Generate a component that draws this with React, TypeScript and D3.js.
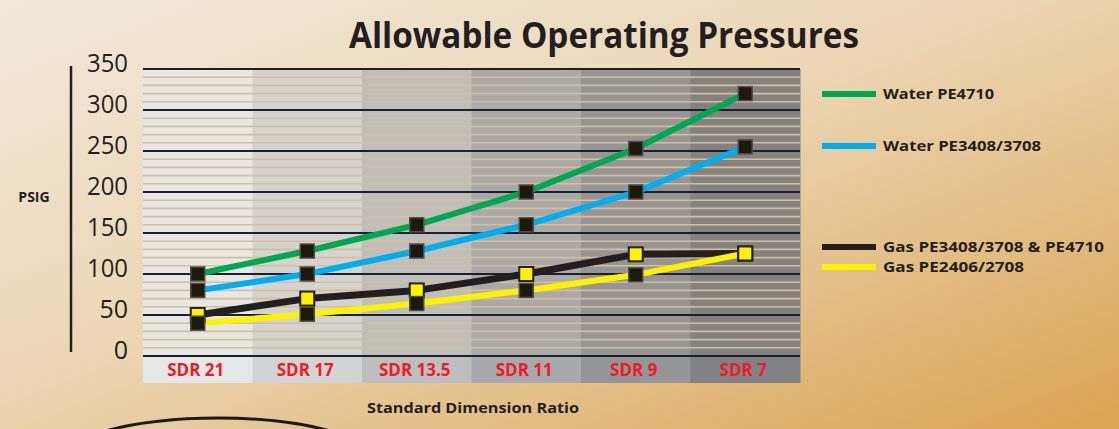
import React from "react";
import * as d3 from "d3";

const categories = ["SDR 21", "SDR 17", "SDR 13.5", "SDR 11", "SDR 9", "SDR 7"];
const bandColors = ["#e6e7e8", "#d1d3d4", "#bcbec0", "#a7a9ac", "#939598", "#808285"];

const waterPE4710 = [100, 128, 160, 200, 253, 320];
const waterPE3408 = [80, 100, 128, 160, 200, 255];
const gasPE3408 = [50, 70, 80, 100, 124, 125];
const gasPE2406 = [40, 51, 64, 80, 99, 125];
// marker fill per point on the yellow line (last one shows yellow in the picture)
const gasPE2406Markers = ["dark", "dark", "dark", "dark", "dark", "yellow"];

const yTicks = [0, 50, 100, 150, 200, 250, 300, 350];

const series = [
  { name: "Water PE4710", values: waterPE4710, color: "#00a651", marker: "dark", legendY: 94, textLen: 111 },
  { name: "Water PE3408/3708", values: waterPE3408, color: "#00aeef", marker: "dark", legendY: 146, textLen: 158 },
  { name: "Gas PE3408/3708 & PE4710", values: gasPE3408, color: "#231f20", marker: "yellow", legendY: 247, textLen: 221 },
  { name: "Gas PE2406/2708", values: gasPE2406, color: "#fff200", marker: gasPE2406Markers, legendY: 267, textLen: 141 },
];

const W = 1119;
const H = 429;
const font = "'Open Sans', 'Noto Sans', sans-serif";

export default function App() {
  const x = d3.scaleBand<string>().domain(categories).range([143, 800]).paddingInner(0);
  const y = d3.scaleLinear().domain([0, 350]).range([356, 69]);
  const minor = y.ticks(35).filter((t) => t % 50 !== 0);

  const line = d3
    .line<number>()
    .x((_, i) => (x(categories[i]) as number) + x.bandwidth() / 2)
    .y((d) => y(d))
    .curve(d3.curveLinear);

  const ms = 14;

  return (
    <svg width={W} height={H} style={{ position: "absolute", left: 0, top: 0 }} fontFamily={font}>
      <defs>
        <linearGradient id="bg" x1="0" y1="0" x2="1" y2="1">
          <stop offset="0" stopColor="#f2e8dc" />
          <stop offset="0.45" stopColor="#ecd6b4" />
          <stop offset="1" stopColor="#d9a352" />
        </linearGradient>
      </defs>
      <rect width={W} height={H} fill="url(#bg)" />

      <text x={604} y={48} textAnchor="middle" fontSize={35} fontWeight={700} fill="#231f20"
        textLength={510} lengthAdjust="spacingAndGlyphs">
        Allowable Operating Pressures
      </text>

      {/* column bands */}
      {categories.map((c, i) => (
        <rect key={c} x={x(c)} y={y(350)} width={x.bandwidth() + 0.5} height={383 - y(350)} fill={bandColors[i]} />
      ))}

      {/* grid */}
      {minor.map((t) => (
        <line key={"m" + t} x1={143} x2={800} y1={y(t)} y2={y(t)} stroke="#dfbd88" strokeWidth={1.6} />
      ))}
      {yTicks.map((t) => (
        <line key={"M" + t} x1={143} x2={800} y1={y(t)} y2={y(t)} stroke="#231f20" strokeWidth={t === 350 || t === 0 ? 2.2 : 1.8} />
      ))}

      {/* y axis */}
      <line x1={71} x2={71} y1={66} y2={352} stroke="#231f20" strokeWidth={2.5} />
      {yTicks.map((t) => (
        <text key={"t" + t} x={128} y={y(t) + 3} textAnchor="end" fontSize={25} fill="#231f20"
          textLength={t >= 100 ? 41 : undefined} lengthAdjust="spacingAndGlyphs">
          {t}
        </text>
      ))}
      <text x={34} y={202} textAnchor="middle" fontSize={14} fontWeight={700} fill="#231f20">PSIG</text>

      {/* category labels */}
      {categories.map((c) => (
        <text key={"c" + c} x={(x(c) as number) + x.bandwidth() / 2 - 2} y={376} textAnchor="middle"
          fontSize={17} fontWeight={700} fill="#ed1c24">
          {c}
        </text>
      ))}
      <text x={473} y={413} textAnchor="middle" fontSize={15} fontWeight={700} fill="#231f20"
        textLength={212} lengthAdjust="spacingAndGlyphs">
        Standard Dimension Ratio
      </text>

      {/* lines */}
      {series.map((s) => (
        <path key={"l" + s.name} d={line(s.values) || ""} fill="none" stroke={s.color}
          strokeWidth={s.color === "#231f20" ? 7 : 6} strokeLinejoin="round" />
      ))}

      {/* markers */}
      {series.map((s) =>
        s.values.map((v, i) => {
          const kind = Array.isArray(s.marker) ? s.marker[i] : s.marker;
          const cx = (x(categories[i]) as number) + x.bandwidth() / 2;
          return (
            <rect key={s.name + i} x={cx - ms / 2} y={y(v) - ms / 2} width={ms} height={ms}
              fill={kind === "yellow" ? "#fff200" : "#1c1a0c"}
              stroke={kind === "yellow" ? "#231f20" : "#4d4d4d"} strokeWidth={kind === "yellow" ? 2 : 1.5} />
          );
        })
      )}

      {/* legend */}
      {series.map((s) => (
        <g key={"lg" + s.name}>
          <line x1={822} x2={876} y1={s.legendY} y2={s.legendY} stroke={s.color} strokeWidth={6} />
          <text x={883} y={s.legendY + 5} fontSize={15} fontWeight={700} fill="#231f20"
            textLength={s.textLen} lengthAdjust="spacingAndGlyphs">
            {s.name}
          </text>
        </g>
      ))}

      {/* decorative arc */}
      <ellipse cx={218} cy={470} rx={170} ry={52} fill="none" stroke="#1a1a1a" strokeWidth={3} />
    </svg>
  );
}
